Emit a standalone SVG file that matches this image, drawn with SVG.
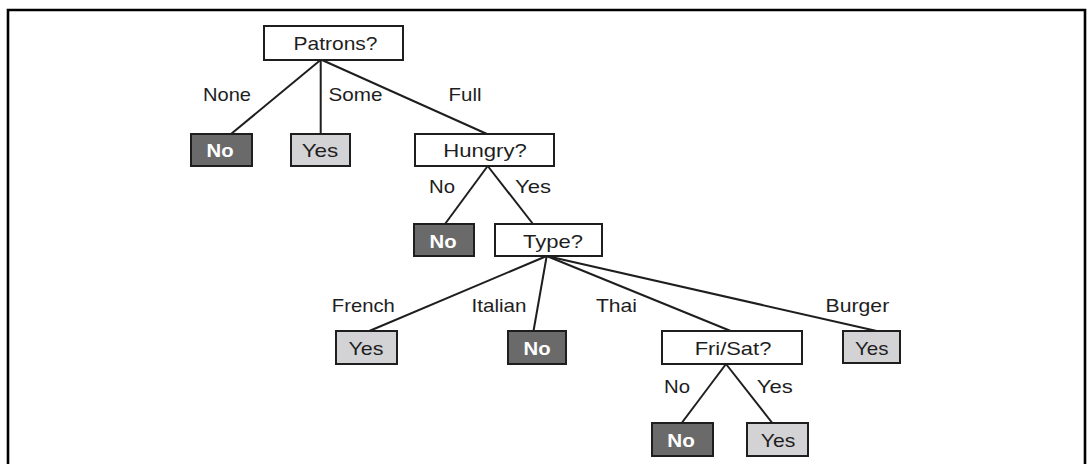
<svg xmlns="http://www.w3.org/2000/svg" width="1089" height="464" viewBox="0 0 1089 464">
<style>
.box{stroke:#1e1e1e;stroke-width:2}
.q{fill:#ffffff}
.no{fill:#6a6a6a}
.yes{fill:#d3d3d5}
.t{font-family:"Liberation Sans",Arial,sans-serif;font-size:19px;fill:#1e1e1e;text-anchor:middle}
.tw{font-family:"Liberation Sans",Arial,sans-serif;font-size:19px;font-weight:bold;fill:#ffffff;text-anchor:middle}
.edge{stroke:#1e1e1e;stroke-width:2;fill:none}
</style>
<rect x="0" y="0" width="1089" height="464" fill="#ffffff"/>
<path d="M8,470 V10 H1085 V470" fill="none" stroke="#000" stroke-width="2.6"/>
<g id="connectors">
<line class="edge" x1="320.5" y1="60" x2="231" y2="134"/>
<line class="edge" x1="320.7" y1="60" x2="320.7" y2="134"/>
<line class="edge" x1="322" y1="60" x2="487" y2="134"/>
<line class="edge" x1="487.7" y1="166" x2="445" y2="224"/>
<line class="edge" x1="487.7" y1="166" x2="533" y2="224"/>
<line class="edge" x1="546.7" y1="256" x2="369.3" y2="331"/>
<line class="edge" x1="546.7" y1="256" x2="533.5" y2="331"/>
<line class="edge" x1="546.7" y1="256" x2="730.7" y2="331"/>
<line class="edge" x1="546.7" y1="256" x2="876.7" y2="331"/>
<line class="edge" x1="726" y1="364" x2="681.7" y2="423"/>
<line class="edge" x1="726" y1="364" x2="772.3" y2="423"/>
</g>
<g id="edge-labels">
<text class="t" x="227" y="101" textLength="48" lengthAdjust="spacingAndGlyphs">None</text>
<text class="t" x="355.5" y="101" textLength="54" lengthAdjust="spacingAndGlyphs">Some</text>
<text class="t" x="465" y="101" textLength="33" lengthAdjust="spacingAndGlyphs">Full</text>
<text class="t" x="442" y="193" textLength="26" lengthAdjust="spacingAndGlyphs">No</text>
<text class="t" x="533" y="193" textLength="36" lengthAdjust="spacingAndGlyphs">Yes</text>
<text class="t" x="363.3" y="312" textLength="63" lengthAdjust="spacingAndGlyphs">French</text>
<text class="t" x="499" y="312" textLength="55" lengthAdjust="spacingAndGlyphs">Italian</text>
<text class="t" x="616.5" y="312" textLength="41" lengthAdjust="spacingAndGlyphs">Thai</text>
<text class="t" x="857.4" y="312" textLength="63.6" lengthAdjust="spacingAndGlyphs">Burger</text>
<text class="t" x="677" y="393" textLength="26" lengthAdjust="spacingAndGlyphs">No</text>
<text class="t" x="774.7" y="393" textLength="36" lengthAdjust="spacingAndGlyphs">Yes</text>
</g>
<g id="patrons">
<rect class="box q" x="264" y="26" width="139" height="34"/>
<text class="t" x="335.5" y="50" textLength="84" lengthAdjust="spacingAndGlyphs">Patrons?</text>
</g>
<g id="leaf-none-no">
<rect class="box no" x="191" y="134" width="61" height="32"/>
<text class="tw" x="220" y="157" textLength="27" lengthAdjust="spacingAndGlyphs">No</text>
</g>
<g id="leaf-some-yes">
<rect class="box yes" x="291" y="134" width="59" height="32"/>
<text class="t" x="320" y="157" textLength="36.6" lengthAdjust="spacingAndGlyphs">Yes</text>
</g>
<g id="hungry">
<rect class="box q" x="415" y="134" width="139" height="32"/>
<text class="t" x="485" y="157" textLength="83.7" lengthAdjust="spacingAndGlyphs">Hungry?</text>
</g>
<g id="leaf-hungry-no">
<rect class="box no" x="414" y="224" width="60" height="32"/>
<text class="tw" x="443" y="247.5" textLength="27" lengthAdjust="spacingAndGlyphs">No</text>
</g>
<g id="type">
<rect class="box q" x="495" y="224" width="107" height="32"/>
<text class="t" x="553" y="247.5" textLength="60" lengthAdjust="spacingAndGlyphs">Type?</text>
</g>
<g id="leaf-french-yes">
<rect class="box yes" x="336" y="331" width="61" height="33"/>
<text class="t" x="366" y="355" textLength="35" lengthAdjust="spacingAndGlyphs">Yes</text>
</g>
<g id="leaf-italian-no">
<rect class="box no" x="508" y="331" width="58" height="33"/>
<text class="tw" x="537" y="355" textLength="27" lengthAdjust="spacingAndGlyphs">No</text>
</g>
<g id="frisat">
<rect class="box q" x="662" y="331" width="140" height="33"/>
<text class="t" x="733" y="354.5" textLength="76.7" lengthAdjust="spacingAndGlyphs">Fri/Sat?</text>
</g>
<g id="leaf-burger-yes">
<rect class="box yes" x="843" y="331" width="57" height="32"/>
<text class="t" x="871.7" y="354.5" textLength="33.5" lengthAdjust="spacingAndGlyphs">Yes</text>
</g>
<g id="leaf-frisat-no">
<rect class="box no" x="652" y="423" width="61" height="33"/>
<text class="tw" x="681" y="447" textLength="27.5" lengthAdjust="spacingAndGlyphs">No</text>
</g>
<g id="leaf-frisat-yes">
<rect class="box yes" x="747" y="423" width="61" height="33"/>
<text class="t" x="778" y="447" textLength="34.5" lengthAdjust="spacingAndGlyphs">Yes</text>
</g>
</svg>
